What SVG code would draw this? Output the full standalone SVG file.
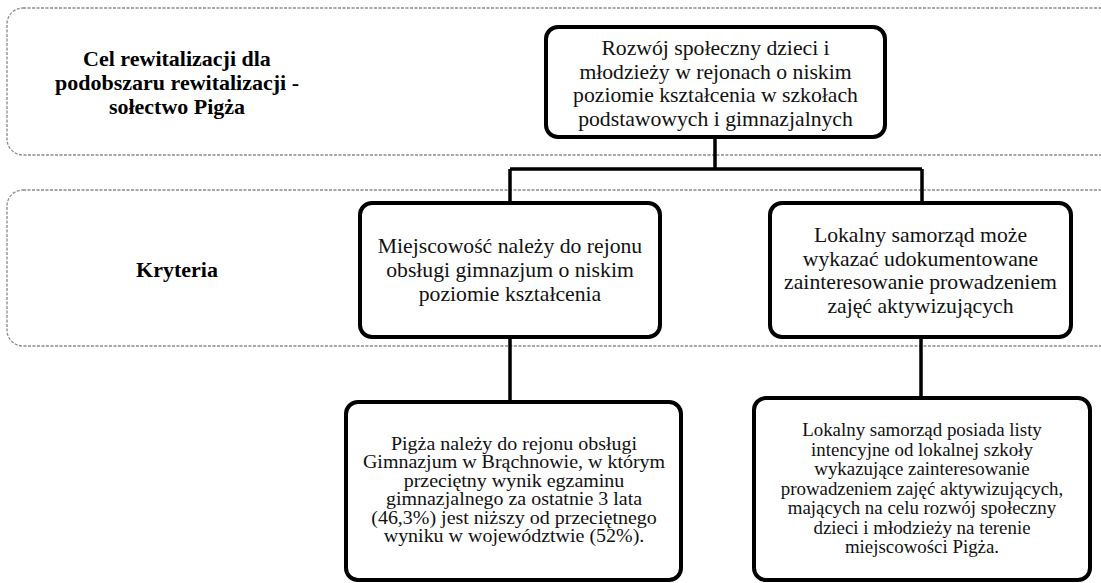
<svg xmlns="http://www.w3.org/2000/svg" width="1101" height="583" viewBox="0 0 1101 583">
<style>
.band{fill:none;stroke:#8a8a8a;stroke-width:1.3;stroke-dasharray:3 1.5}
.node{fill:#fff;stroke:#000;stroke-width:4}
.conn{fill:none;stroke:#000;stroke-width:3.5}
text{font-family:'Liberation Serif','DejaVu Serif',serif;fill:#111;text-anchor:middle}
.lbl{font-weight:bold;font-size:22px;fill:#000}
.t{font-size:21.7px}
.s{font-size:18px}
</style>
<rect width="1101" height="583" fill="#fff"/>
<g id="band-goal">
<rect class="band" x="7" y="8" width="1110" height="147" rx="16"/>
<text class="lbl" x="177" y="66">Cel rewitalizacji dla</text>
<text class="lbl" x="177" y="90">podobszaru rewitalizacji -</text>
<text class="lbl" x="177" y="114">sołectwo Pigża</text>
</g>
<g id="band-criteria">
<rect class="band" x="7" y="190" width="1110" height="156" rx="16"/>
<text class="lbl" x="177" y="277">Kryteria</text>
</g>
<g id="connectors">
<path class="conn" d="M715 137 V169 M510 169 H922 M510 169 V203 M922 169 V203"/>
<path class="conn" d="M510 337 V402 M921 337 V398"/>
</g>
<g id="node-goal">
<rect class="node" x="546" y="27" width="339" height="110" rx="12"/>
<text class="t" x="715.5" y="55">Rozwój społeczny dzieci i</text>
<text class="t" x="715.5" y="78.5">młodzieży w rejonach o niskim</text>
<text class="t" x="715.5" y="102">poziomie kształcenia w szkołach</text>
<text class="t" x="715.5" y="125.5">podstawowych i gimnazjalnych</text>
</g>
<g id="node-crit1">
<rect class="node" x="360" y="203" width="300" height="134" rx="12"/>
<text class="t" x="510" y="253">Miejscowość należy do rejonu</text>
<text class="t" x="510" y="277">obsługi gimnazjum o niskim</text>
<text class="t" x="510" y="301">poziomie kształcenia</text>
</g>
<g id="node-crit2">
<rect class="node" x="770" y="203" width="301" height="134" rx="12"/>
<text class="t" x="920.5" y="242">Lokalny samorząd może</text>
<text class="t" x="920.5" y="265.5">wykazać udokumentowane</text>
<text class="t" x="920.5" y="289">zainteresowanie prowadzeniem</text>
<text class="t" x="920.5" y="312.5">zajęć aktywizujących</text>
</g>
<g id="node-ev1">
<rect class="node" x="346" y="402" width="335" height="178" rx="12"/>
<g transform="translate(514,0) scale(1.11,1)">
<text class="s" x="0" y="450">Pigża należy do rejonu obsługi</text>
<text class="s" x="0" y="468.5">Gimnazjum w Brąchnowie, w którym</text>
<text class="s" x="0" y="487">przeciętny wynik egzaminu</text>
<text class="s" x="0" y="505.5">gimnazjalnego za ostatnie 3 lata</text>
<text class="s" x="0" y="524">(46,3%) jest niższy od przeciętnego</text>
<text class="s" x="0" y="542.5">wyniku w województwie (52%).</text>
</g>
</g>
<g id="node-ev2">
<rect class="node" x="754" y="398" width="336" height="182" rx="12"/>
<g transform="translate(922,0) scale(1.05,1)">
<text class="s" x="0" y="436.5">Lokalny samorząd posiada listy</text>
<text class="s" x="0" y="456">intencyjne od lokalnej szkoły</text>
<text class="s" x="0" y="475.5">wykazujące zainteresowanie</text>
<text class="s" x="0" y="495">prowadzeniem zajęć aktywizujących,</text>
<text class="s" x="0" y="514.5">mających na celu rozwój społeczny</text>
<text class="s" x="0" y="534">dzieci i młodzieży na terenie</text>
<text class="s" x="0" y="553.5">miejscowości Pigża.</text>
</g>
</g>
</svg>
